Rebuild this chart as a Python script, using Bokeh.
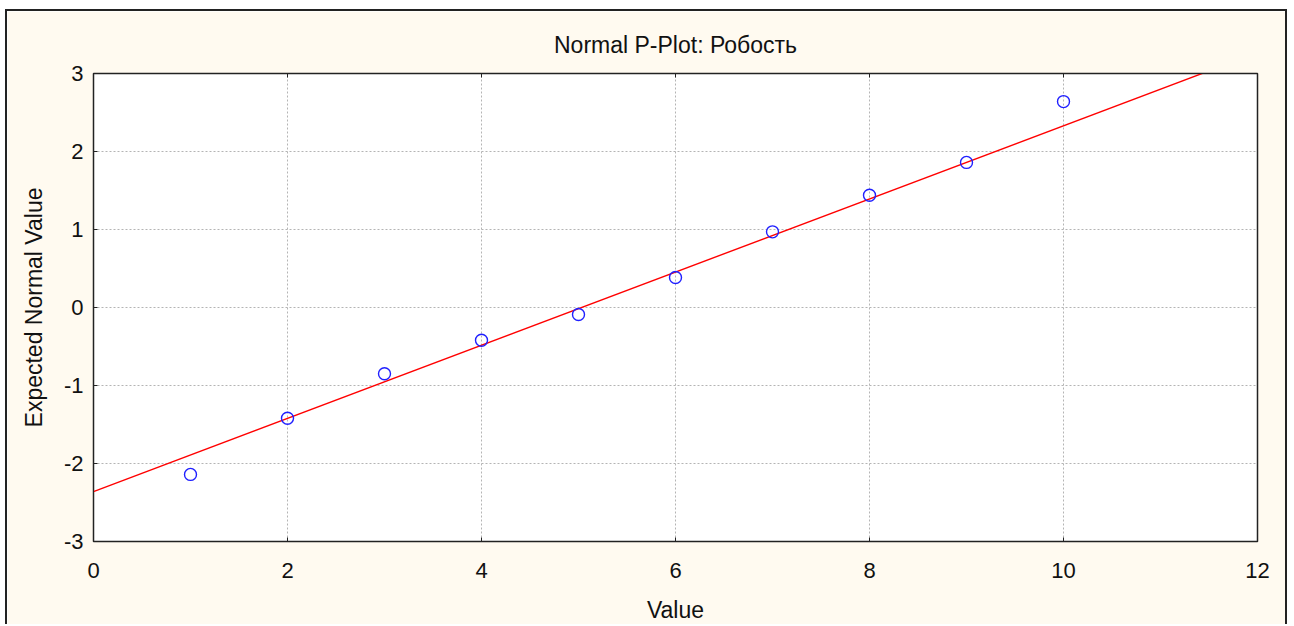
from bokeh.plotting import figure
from bokeh.models import LinearAxis, FixedTicker, Range1d, ColumnDataSource
from bokeh.embed import file_html
from bokeh.resources import INLINE

# ---- data ----
values = [1, 2, 3, 4, 5, 6, 7, 8, 9, 10]
expected_normal = [-2.14, -1.42, -0.85, -0.42, -0.09, 0.385, 0.97, 1.44, 1.86, 2.64]
fit_intercept = -2.36
fit_slope = 0.469
x_ticks = [0, 2, 4, 6, 8, 10, 12]
x_tick_labels = ["0", "2", "4", "6", "8", "10", "12"]
y_ticks = [-3, -2, -1, 0, 1, 2, 3]
y_tick_labels = ["-3", "-2", "-1", "0", "1", "2", "3"]
title_text = "Normal P-Plot: Робость"
x_label = "Value"
y_label = "Expected Normal Value"

FONT = "Liberation Sans"

p = figure(width=1282, height=615, output_backend="svg", toolbar_location=None,
           x_range=Range1d(x_ticks[0], x_ticks[-1]), y_range=Range1d(y_ticks[0], y_ticks[-1]),
           min_border_left=86, min_border_right=32, min_border_top=62, min_border_bottom=85,
           x_axis_label=x_label, y_axis_label=y_label)

p.background_fill_color = "white"
p.border_fill_color = "#fffaf0"
p.outline_line_color = "#222222"
p.outline_line_width = 1.5
p.styles = {"border-top": "2px solid #222222", "border-left": "2px solid #222222",
            "border-right": "2px solid #222222", "margin-left": "5px", "margin-top": "9px"}

p.title.text = title_text
p.title.align = "center"
p.title.text_font = FONT
p.title.text_font_size = "23px"
p.title.text_font_style = "normal"
p.title.text_color = "#111111"
p.title.standoff = 32

for ax, ticks, labels in ((p.xaxis[0], x_ticks, x_tick_labels), (p.yaxis[0], y_ticks, y_tick_labels)):
    ax.ticker = FixedTicker(ticks=ticks)
    ax.major_label_overrides = {t: l for t, l in zip(ticks, labels)}
    ax.major_tick_in = 4
    ax.major_tick_out = 0
    ax.minor_tick_in = 0
    ax.minor_tick_out = 0
    ax.axis_line_color = "#222222"
    ax.major_tick_line_color = "#222222"
    ax.major_label_text_font = FONT
    ax.major_label_text_font_size = "22px"
    ax.major_label_text_color = "#111111"
    ax.axis_label_text_font = FONT
    ax.axis_label_text_font_size = "23px"
    ax.axis_label_text_font_style = "normal"
    ax.axis_label_text_color = "#111111"

p.xaxis.major_label_standoff = 21
p.xaxis.axis_label_standoff = 16
p.yaxis.major_label_standoff = 10
p.yaxis.axis_label_standoff = 14

top_axis = LinearAxis(ticker=FixedTicker(ticks=x_ticks), major_tick_in=4, major_tick_out=0,
                      minor_tick_in=0, minor_tick_out=0,
                      major_label_overrides={t: "" for t in x_ticks},
                      major_label_standoff=0, axis_line_color="#222222",
                      major_tick_line_color="#222222")
p.add_layout(top_axis, "above")

for g in (p.xgrid[0], p.ygrid[0]):
    g.grid_line_color = "#b4b4b4"
    g.grid_line_dash = "2 2"
    g.grid_line_width = 1

p.xgrid[0].ticker = FixedTicker(ticks=x_ticks)
p.ygrid[0].ticker = FixedTicker(ticks=y_ticks)

line_x = [x_ticks[0], x_ticks[-1]]
line_y = [fit_intercept + fit_slope * x for x in line_x]
p.line(line_x, line_y, line_color="#ff0000", line_width=1.4)

src = ColumnDataSource(dict(x=values, y=expected_normal))
p.scatter("x", "y", source=src, marker="circle", size=12, fill_color=None,
          line_color="#2020ff", line_width=1.4)

open("out.html", "w").write(file_html(p, INLINE))
